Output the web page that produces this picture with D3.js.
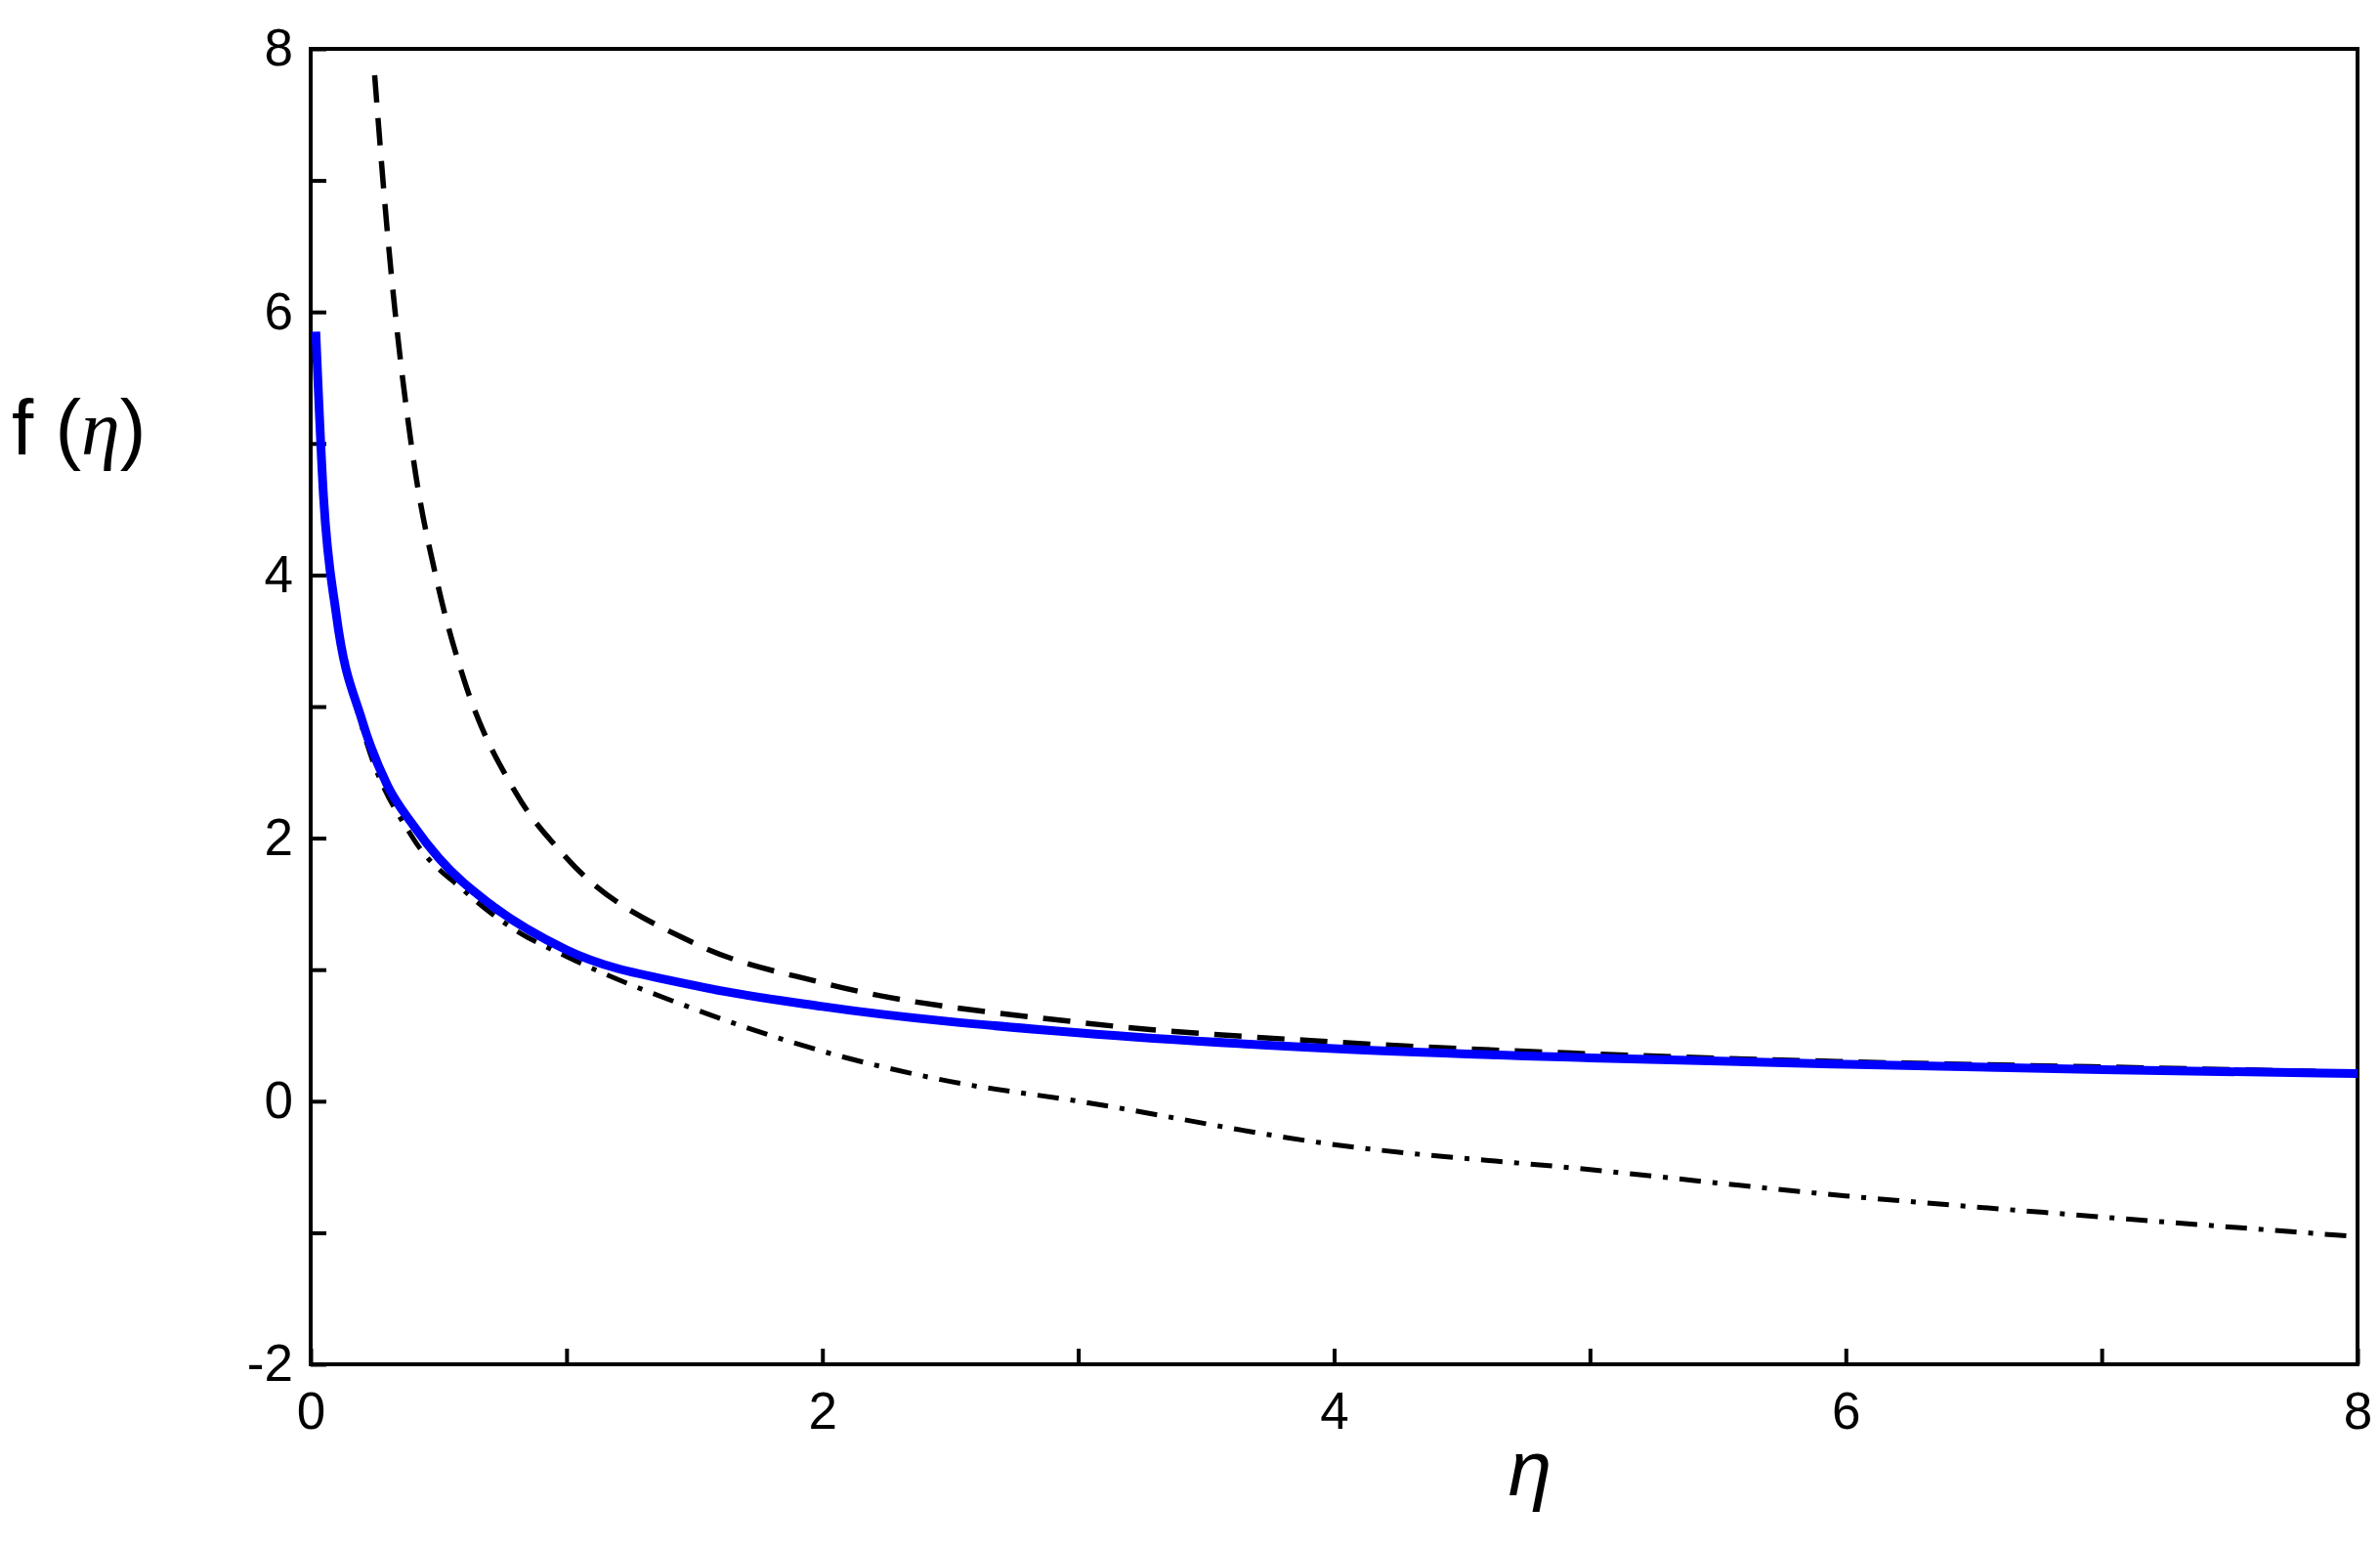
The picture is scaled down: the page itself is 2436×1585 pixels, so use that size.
<!DOCTYPE html>
<html><head><meta charset="utf-8">
<script src="https://cdn.jsdelivr.net/npm/d3@7"></script>
<style>body{margin:0;background:#fff}text{font-family:"Liberation Sans",Arial,sans-serif}</style>
</head><body><svg width="2436" height="1585"></svg>
<script>
const xTicks = [0, 2, 4, 6, 8];
const yTicks = [-2, 0, 2, 4, 6, 8];

const solidEta = [0.02,0.05,0.1,0.2,0.3,0.4,0.5,0.7,1,1.5,2,3,4,5,6,7,8];
const solidF = [5.85,4.6,3.7,2.9,2.4,2.1,1.85,1.5,1.15,0.88,0.72,0.52,0.4,0.33,0.28,0.24,0.21];

const dashEta = [0.25,0.3,0.4,0.5,0.6,0.8,1,1.5,2,3,4,5,6,7,8];
const dashF = [7.8,6.6,4.9,3.9,3.2,2.35,1.85,1.2,0.9,0.6,0.45,0.36,0.3,0.26,0.22];

const dotEta = [0.05,0.1,0.2,0.4,0.6,0.8,1,1.5,2,2.5,3,4,5,6,7,8];
const dotF = [4.6,3.7,2.85,2.0,1.6,1.3,1.1,0.7,0.38,0.15,0.0,-0.33,-0.52,-0.72,-0.88,-1.03];

const svg = d3.select("svg");
const L = 318, R = 2413, T = 50, B = 1396;
const x = d3.scaleLinear().domain([0, 8]).range([L, R]);
const y = d3.scaleLinear().domain([-2, 8]).range([B, T]);

const g = svg.append("g");
// frame
g.append("rect").attr("x", L).attr("y", T).attr("width", R - L).attr("height", B - T)
  .attr("fill", "none").attr("stroke", "#000").attr("stroke-width", 4);

// ticks (inward)
const xAxis = d3.axisBottom(x).tickValues(d3.range(0, 9, 1)).tickSize(-16).tickFormat(d => xTicks.includes(d) ? d : "").tickPadding(18);
const yAxis = d3.axisLeft(y).tickValues(d3.range(-2, 9, 1)).tickSize(-16).tickFormat(d => yTicks.includes(d) ? d : "").tickPadding(18);
const gx = g.append("g").attr("transform", `translate(0,${B})`).call(xAxis);
const gy = g.append("g").attr("transform", `translate(${L},0)`).call(yAxis);
[gx, gy].forEach(a => {
  a.select(".domain").remove();
  a.selectAll("line").attr("stroke-width", 4);
  a.selectAll("text").attr("font-size", 53).attr("fill", "#000");
});
gx.selectAll("text").attr("dy", "0.9em");

const line = d3.line().x(d => x(d[0])).y(d => y(d[1])).curve(d3.curveMonotoneX);
const plot = g.append("g");
plot.append("path").datum(dotEta.map((e, i) => [e, dotF[i]])).attr("d", line)
  .attr("fill", "none").attr("stroke", "#000").attr("stroke-width", 5).attr("stroke-dasharray", "22,12,5,12");
plot.append("path").datum(dashEta.map((e, i) => [e, dashF[i]])).attr("d", line)
  .attr("fill", "none").attr("stroke", "#000").attr("stroke-width", 5.5).attr("stroke-dasharray", "28,16");
plot.append("path").datum(solidEta.map((e, i) => [e, solidF[i]])).attr("d", line)
  .attr("fill", "none").attr("stroke", "#0000ff").attr("stroke-width", 9);

// labels
svg.append("text").attr("x", 12).attr("y", 465).attr("font-size", 80)
  .html('f (<tspan font-family="Liberation Serif" font-style="italic">η</tspan>)');
svg.append("text").attr("x", 1566).attr("y", 1530).attr("font-size", 80)
  .attr("font-family", "Liberation Serif").attr("font-style", "italic").attr("text-anchor", "middle").text("η");
</script></body></html>
